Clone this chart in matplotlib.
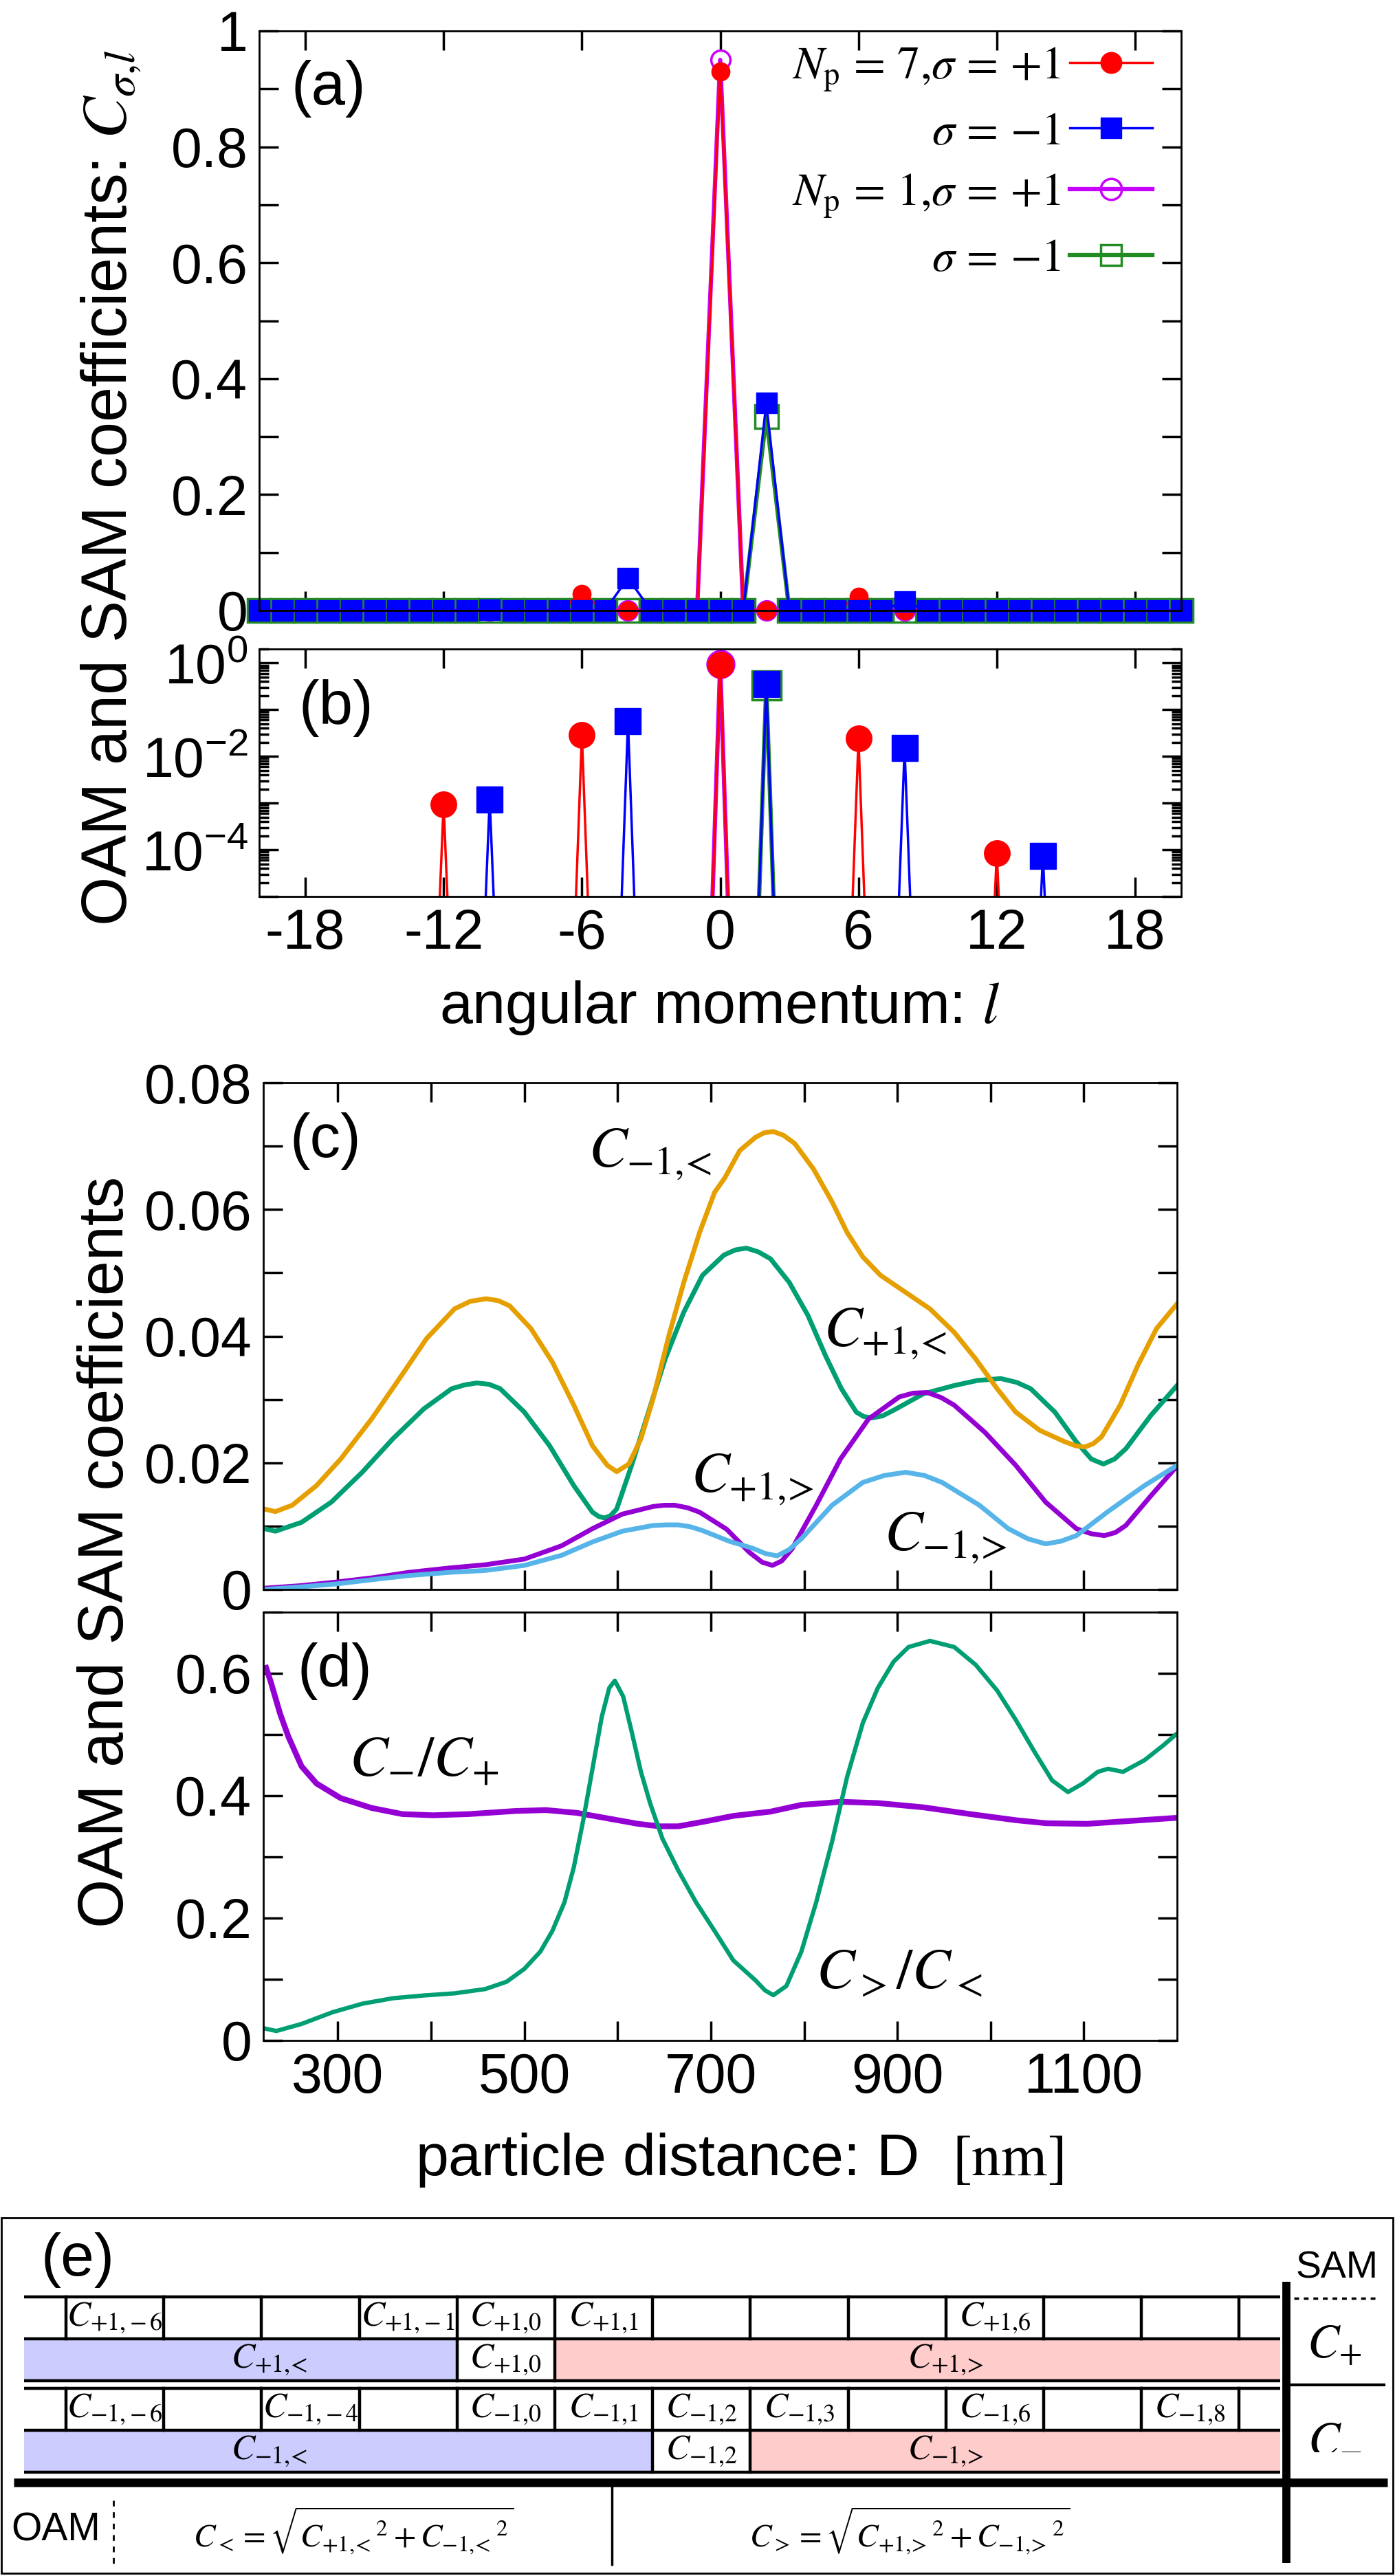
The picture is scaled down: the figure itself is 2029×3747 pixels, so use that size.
import numpy as np
import matplotlib
matplotlib.use('Agg')
import matplotlib.pyplot as plt
from matplotlib.lines import Line2D
from matplotlib.patches import Rectangle
from matplotlib.ticker import FixedLocator, FixedFormatter, LogLocator, NullFormatter

plt.rcParams['font.family'] = ['Liberation Sans', 'DejaVu Sans']
plt.rcParams['mathtext.fontset'] = 'stix'
plt.rcParams['axes.unicode_minus'] = False

W, H = 2029, 3747
DPI = 100

# ---------------- (a), (b): OAM spectrum C_{sigma,l} (only non-zero values listed)
l_vals = np.arange(-20, 21)
np7_plus_l = [-12, -6, 0, 6, 12]
np7_plus_c = [9.5e-4, 0.029, 0.93, 0.024, 8.5e-5]
np7_minus_l = [-10, -4, 2, 8, 14]
np7_minus_c = [1.2e-3, 0.056, 0.358, 0.015, 7.5e-5]
np1_plus_l = [0]
np1_plus_c = [0.95]
np1_minus_l = [2]
np1_minus_c = [0.335]
log_floor = 1e-15   # zeros drawn at this level in the log panel

# ---------------- (c): coefficients vs particle distance D [nm]
cm1_lt_D = [221, 233, 251, 277, 303, 336, 366, 395, 425, 442, 459, 472, 484, 507, 530, 553, 573,
            589, 599, 612, 625, 638, 655, 671, 688, 704, 715, 731, 748, 757, 767, 778, 790, 810,
            830, 846, 863, 882, 909, 935, 961, 984, 1007, 1027, 1053, 1080, 1091, 1101, 1110,
            1119, 1139, 1158, 1178, 1200]
cm1_lt = [0.0127, 0.0123, 0.0133, 0.0164, 0.0206, 0.0269, 0.0333, 0.0396, 0.0443, 0.0455, 0.0459,
          0.0456, 0.0448, 0.0412, 0.0359, 0.0291, 0.0227, 0.0196, 0.0186, 0.0198, 0.0238, 0.0301,
          0.0401, 0.0485, 0.0564, 0.0627, 0.0650, 0.0693, 0.0714, 0.0721, 0.0723, 0.0717, 0.0704,
          0.0664, 0.0612, 0.0564, 0.0525, 0.0496, 0.0469, 0.0443, 0.0406, 0.0364, 0.0317, 0.0280,
          0.0251, 0.0233, 0.0227, 0.0225, 0.0230, 0.0241, 0.0291, 0.0354, 0.0412, 0.0451]

cp1_lt_D = [221, 233, 261, 293, 326, 359, 392, 422, 436, 449, 462, 474, 500, 527, 553, 573, 580,
            586, 592, 599, 615, 632, 651, 671, 691, 714, 726, 738, 751, 764, 784, 804, 823, 840,
            856, 864, 873, 884, 896, 928, 961, 986, 1011, 1028, 1043, 1069, 1092, 1108, 1121, 1133,
            1145, 1172, 1200]
cp1_lt = [0.0096, 0.0092, 0.0106, 0.0138, 0.0185, 0.0238, 0.0285, 0.0317, 0.0323, 0.0326, 0.0324,
          0.0317, 0.0280, 0.0227, 0.0164, 0.0122, 0.0115, 0.0113, 0.0116, 0.0127, 0.0196, 0.0275,
          0.0364, 0.0438, 0.0496, 0.0528, 0.0536, 0.0539, 0.0533, 0.0522, 0.0485, 0.0433, 0.0369,
          0.0317, 0.0280, 0.0273, 0.0271, 0.0274, 0.0283, 0.0309, 0.0322, 0.0330, 0.0333, 0.0327,
          0.0317, 0.0280, 0.0233, 0.0206, 0.0198, 0.0206, 0.0222, 0.0275, 0.0322]

cp1_gt_D = [221, 260, 300, 340, 376, 420, 458, 500, 540, 573, 605, 638, 650, 661, 675, 688, 717,
            741, 755, 766, 776, 787, 813, 839, 869, 902, 917, 932, 947, 961, 994, 1027, 1059, 1092,
            1108, 1122, 1134, 1145, 1172, 1200]
cp1_gt = [0.0002, 0.0006, 0.0012, 0.0019, 0.0027, 0.0034, 0.0039, 0.0048, 0.0069, 0.0096, 0.0119,
          0.0131, 0.0133, 0.0133, 0.0129, 0.0122, 0.0095, 0.0059, 0.0043, 0.0038, 0.0045, 0.0064,
          0.0133, 0.0206, 0.0269, 0.0304, 0.0310, 0.0311, 0.0303, 0.0291, 0.0248, 0.0196, 0.0138,
          0.0096, 0.0088, 0.0085, 0.0090, 0.0101, 0.0148, 0.0195]

cm1_gt_D = [221, 260, 300, 340, 376, 420, 458, 500, 540, 573, 605, 638, 652, 665, 678, 691, 720,
            745, 758, 771, 784, 797, 830, 863, 886, 909, 929, 948, 988, 1019, 1040, 1059, 1075,
            1092, 1125, 1165, 1200]
cm1_gt = [0.0000, 0.0004, 0.0009, 0.0016, 0.0022, 0.0027, 0.0030, 0.0038, 0.0054, 0.0075, 0.0092,
          0.0101, 0.0102, 0.0102, 0.0099, 0.0093, 0.0076, 0.0065, 0.0057, 0.0053, 0.0063, 0.0080,
          0.0133, 0.0169, 0.0180, 0.0185, 0.0180, 0.0169, 0.0133, 0.0096, 0.0080, 0.0072, 0.0076,
          0.0085, 0.0122, 0.0164, 0.0196]

# ---------------- (d): ratios
sam_ratio_D = [223, 228, 238, 247, 261, 277, 303, 336, 369, 402, 441, 490, 523, 556, 589, 622, 645,
               665, 694, 724, 764, 797, 840, 879, 928, 978, 1027, 1060, 1103, 1142, 1201]
sam_ratio = [0.609, 0.586, 0.534, 0.496, 0.448, 0.420, 0.396, 0.380, 0.370, 0.368, 0.370, 0.375,
             0.3765, 0.372, 0.363, 0.354, 0.350, 0.350, 0.358, 0.367, 0.374, 0.385, 0.390, 0.388,
             0.381, 0.370, 0.360, 0.355, 0.354, 0.358, 0.364]

oam_ratio_D = [220, 234, 261, 294, 326, 359, 392, 425, 458, 481, 500, 517, 530, 543, 553, 563, 573,
               583, 591, 597, 606, 615, 625, 635, 648, 665, 684, 704, 724, 748, 758, 767, 781, 797,
               813, 830, 846, 863, 879, 896, 912, 935, 961, 984, 1007, 1027, 1047, 1066, 1083, 1099,
               1115, 1126, 1142, 1165, 1185, 1201]
oam_ratio = [0.020, 0.0155, 0.027, 0.046, 0.060, 0.069, 0.0735, 0.077, 0.084, 0.096, 0.117, 0.145,
             0.179, 0.226, 0.283, 0.359, 0.444, 0.529, 0.576, 0.588, 0.562, 0.505, 0.439, 0.387,
             0.330, 0.278, 0.226, 0.179, 0.131, 0.098, 0.082, 0.074, 0.089, 0.145, 0.226, 0.325,
             0.430, 0.519, 0.576, 0.619, 0.643, 0.653, 0.643, 0.614, 0.572, 0.524, 0.472, 0.425,
             0.406, 0.420, 0.439, 0.444, 0.439, 0.458, 0.482, 0.503]

# ---------------- (e): schematic table
plus_cells = [0, 3, 4, 5, 9]
plus_cell_sub = ['+1,-6', '+1,-1', '+1,0', '+1,1', '+1,6']
plus_mid_sub = '+1,0'
minus_cells = [0, 2, 4, 5, 6, 7, 9, 11]
minus_cell_sub = ['-1,-6', '-1,-4', '-1,0', '-1,1', '-1,2', '-1,3', '-1,6', '-1,8']
minus_mid_sub = '-1,2'
plus_split = 4     # the column kept apart between C_< and C_>
minus_split = 6

RED, BLUE, PURPLE, GREEN = '#FF0000', '#0000FF', '#C800FF', '#228B22'
ORANGE, TEAL, VIOLET, SKY = '#E69F00', '#009E73', '#9400D3', '#56B4E9'
LT_FILL, GT_FILL = '#CCCCFF', '#FFCCCC'

fig = plt.figure(figsize=(W / DPI, H / DPI), dpi=DPI)


def px_axes(x0, y0, x1, y1):
    return fig.add_axes([x0 / W, 1 - y1 / H, (x1 - x0) / W, (y1 - y0) / H])


def fig_text(x, y, s, **kw):
    return fig.text(x / W, 1 - y / H, s, **kw)


def sub(s):
    # braces keep mathtext from spacing the comma; pull '<' / '>' in tight
    s = s.replace(',', '{,}')
    return s.replace('<', r'\!{<}').replace('>', r'\!{>}')


def style_axes(ax, minor_len=20):
    ax.tick_params(which='both', direction='in', top=True, right=True, width=2.5,
                   labelsize=58, pad=12)
    ax.tick_params(which='major', length=20)
    ax.tick_params(which='minor', length=minor_len)
    for sp in ax.spines.values():
        sp.set_linewidth(2)


# table layer first (drawn underneath everything)
ax_e = fig.add_axes([0, 0, 1, 1])
ax_e.set_xlim(0, W)
ax_e.set_ylim(H, 0)
ax_e.axis('off')


def full_spectrum(ls, cs):
    c = np.zeros(l_vals.size)
    c[np.searchsorted(l_vals, ls)] = cs
    return c


spectra = {
    'np7p': full_spectrum(np7_plus_l, np7_plus_c),
    'np7m': full_spectrum(np7_minus_l, np7_minus_c),
    'np1p': full_spectrum(np1_plus_l, np1_plus_c),
    'np1m': full_spectrum(np1_minus_l, np1_minus_c),
}
styles = {
    'np7p': dict(color=RED, lw=2.5, marker='o', mfc=RED, mec=RED),
    'np7m': dict(color=BLUE, lw=2.5, marker='s', mfc=BLUE, mec=BLUE),
    'np1p': dict(color=PURPLE, lw=4.5, marker='o', mfc='none', mec=PURPLE, mew=2.5),
    'np1m': dict(color=GREEN, lw=4.5, marker='s', mfc='none', mec=GREEN, mew=2.5),
}
sizes_a = {'np7p': 19, 'np7m': 22, 'np1p': 20, 'np1m': 24}
sizes_b = {'np7p': 27, 'np7m': 28, 'np1p': 28, 'np1m': 30}
draw_order = ['np1m', 'np1p', 'np7p', 'np7m']
legend_order = ['np7p', 'np7m', 'np1p', 'np1m']
legend_labels = [r'$N_\mathrm{p}\,=\,7{,}\sigma\,=\,{+1}$', r'$\sigma\,=\,{-1}$',
                 r'$N_\mathrm{p}\,=\,1{,}\sigma\,=\,{+1}$', r'$\sigma\,=\,{-1}$']

# ---- (a)
ax_a = px_axes(377, 45, 1718, 888)
for k in draw_order:
    ax_a.plot(l_vals, spectra[k], ms=sizes_a[k], clip_on=False, **styles[k])
ax_a.set_xlim(-20, 20)
ax_a.set_ylim(0, 1)
ax_a.set_xticks(range(-18, 19, 6))
ax_a.tick_params(labelbottom=False)
ax_a.yaxis.set_major_locator(FixedLocator([0, 0.2, 0.4, 0.6, 0.8, 1.0]))
ax_a.yaxis.set_major_formatter(FixedFormatter(['0', '0.2', '0.4', '0.6', '0.8', '1']))
ax_a.yaxis.set_minor_locator(FixedLocator([0.1, 0.3, 0.5, 0.7, 0.9]))
style_axes(ax_a)
ax_a.spines['bottom'].set_zorder(5)
handles = [Line2D([], [], ms=22, **styles[k]) for k in legend_order]
ax_a.legend(handles, legend_labels, loc='upper right', bbox_to_anchor=(0.969, 0.975),
            frameon=False, markerfirst=False, fontsize=48, handlelength=1.8,
            handletextpad=0.2, labelspacing=0.4, borderpad=0, borderaxespad=0)
ax_a.text(0.035, 0.90, '(a)', transform=ax_a.transAxes, fontsize=64, va='center', ha='left')

# ---- (b)
ax_b = px_axes(377, 944, 1718, 1304)
for k in draw_order:
    vals = np.where(spectra[k] > 0, spectra[k], log_floor)
    ax_b.plot(l_vals, vals, ms=sizes_b[k], **styles[k])
ax_b.set_yscale('log')
ax_b.set_xlim(-20, 20)
ax_b.set_ylim(1e-5, 2)
ax_b.set_xticks(range(-18, 19, 6))
ax_b.yaxis.set_major_locator(FixedLocator([1e-5, 1e-4, 1e-3, 1e-2, 1e-1, 1]))
ax_b.yaxis.set_major_formatter(FixedFormatter(['', r'$\mathregular{10^{-4}}$', '',
                                               r'$\mathregular{10^{-2}}$', '',
                                               r'$\mathregular{10^{0}}$']))
ax_b.yaxis.set_minor_locator(LogLocator(base=10, subs=np.arange(2, 10), numticks=20))
ax_b.yaxis.set_minor_formatter(NullFormatter())
style_axes(ax_b, minor_len=10)
ax_b.text(0.043, 0.76, '(b)', transform=ax_b.transAxes, fontsize=64, va='center', ha='left')

fig_text(1047, 1466, r'angular momentum: $l$', fontsize=62, ha='center', va='center')
fig_text(162, 710, r'OAM and SAM coefficients: $C_{\sigma{,}l}$', fontsize=66,
         rotation=90, ha='center', va='center')

# ---- (c)
D_ticks = list(range(300, 1101, 100))
D_labels = ['300', '', '500', '', '700', '', '900', '', '1100']

ax_c = px_axes(383, 1575, 1712, 2312)
ax_c.plot(cp1_lt_D, cp1_lt, color=TEAL, lw=5)
ax_c.plot(cm1_lt_D, cm1_lt, color=ORANGE, lw=5)
ax_c.plot(cp1_gt_D, cp1_gt, color=VIOLET, lw=5)
ax_c.plot(cm1_gt_D, cm1_gt, color=SKY, lw=5)
ax_c.set_xlim(220, 1200)
ax_c.set_ylim(0, 0.08)
ax_c.set_xticks(D_ticks)
ax_c.tick_params(labelbottom=False)
ax_c.yaxis.set_major_locator(FixedLocator(np.arange(0, 0.081, 0.01)))
ax_c.yaxis.set_major_formatter(FixedFormatter(['0', '', '0.02', '', '0.04', '', '0.06', '', '0.08']))
style_axes(ax_c)
ax_c.text(0.029, 0.884, '(c)', transform=ax_c.transAxes, fontsize=64, va='center', ha='left')
lab_kw = dict(fontsize=60, ha='center', va='center')
ax_c.text(635, 0.0687, '$C_{%s}$' % sub('-1,<'), **lab_kw)
ax_c.text(887, 0.0404, '$C_{%s}$' % sub('+1,<'), **lab_kw)
ax_c.text(745, 0.0173, '$C_{%s}$' % sub('+1,>'), **lab_kw)
ax_c.text(952, 0.0081, '$C_{%s}$' % sub('-1,>'), **lab_kw)

# ---- (d)
ax_d = px_axes(383, 2345, 1712, 2968)
ax_d.plot(sam_ratio_D, sam_ratio, color=VIOLET, lw=6)
ax_d.plot(oam_ratio_D, oam_ratio, color=TEAL, lw=4.5)
ax_d.set_xlim(220, 1200)
ax_d.set_ylim(0, 0.7)
ax_d.set_xticks(D_ticks)
ax_d.set_xticklabels(D_labels)
ax_d.yaxis.set_major_locator(FixedLocator(np.arange(0, 0.71, 0.1)))
ax_d.yaxis.set_major_formatter(FixedFormatter(['0', '', '0.2', '', '0.4', '', '0.6', '']))
style_axes(ax_d)
ax_d.text(0.037, 0.862, '(d)', transform=ax_d.transAxes, fontsize=64, va='center', ha='left')
ax_d.text(392, 0.457, r'$C_{-}/C_{+}$', **lab_kw)
ax_d.text(902, 0.109, r'$C_{>}/C_{<}$', **lab_kw)

fig_text(1075, 3142, r'particle distance: D  $\mathrm{[nm]}$', fontsize=62,
         ha='center', va='center')
fig_text(155, 2257, 'OAM and SAM coefficients', fontsize=66, rotation=90,
         ha='center', va='center')

# ---- (e) table, drawn in figure pixels
tab_x0, tab_x1 = 35, 1862
col_x0, col_w, n_col = 96, 142.2, 12
lw_t = 3.2
fs_cell = 37


def col_x(k):
    return col_x0 + k * col_w


def table_block(top, mid, bot, cells, subs, mid_sub, split, sign):
    ax_e.add_patch(Rectangle((tab_x0, mid), col_x(split) - tab_x0, bot - mid,
                             fc=LT_FILL, ec='none'))
    ax_e.add_patch(Rectangle((col_x(split + 1), mid), tab_x1 - col_x(split + 1), bot - mid,
                             fc=GT_FILL, ec='none'))
    for y in (top, mid, bot):
        ax_e.plot([tab_x0, tab_x1], [y, y], color='k', lw=lw_t, solid_capstyle='butt')
    for k in range(n_col + 1):
        ax_e.plot([col_x(k)] * 2, [top, mid], color='k', lw=lw_t)
    for k in (split, split + 1):
        ax_e.plot([col_x(k)] * 2, [mid, bot], color='k', lw=lw_t)
    for k, s in zip(cells, subs):
        ax_e.text(col_x(k) + col_w / 2, (top + mid) / 2, '$C_{%s}$' % sub(s),
                  fontsize=fs_cell, ha='center', va='center')
    yc = (mid + bot) / 2
    ax_e.text(392, yc, '$C_{%s}$' % sub(sign + '1,<'), fontsize=fs_cell, ha='center', va='center')
    ax_e.text(col_x(split) + col_w / 2, yc, '$C_{%s}$' % sub(mid_sub),
              fontsize=fs_cell, ha='center', va='center')
    ax_e.text(1376, yc, '$C_{%s}$' % sub(sign + '1,>'), fontsize=fs_cell, ha='center', va='center')


table_block(3341, 3402, 3463, plus_cells, plus_cell_sub, plus_mid_sub, plus_split, '+')
table_block(3474, 3535, 3596, minus_cells, minus_cell_sub, minus_mid_sub, minus_split, '-')

ax_e.add_patch(Rectangle((2, 3226), 2024, 517, fc='none', ec='k', lw=2))
ax_e.plot([20, 2018], [3611, 3611], color='k', lw=9, solid_capstyle='butt')
ax_e.plot([1871, 1871], [3319, 3728], color='k', lw=8.5, solid_capstyle='butt')
ax_e.plot([1882, 2004], [3343, 3343], color='k', lw=2.5, ls=(0, (2, 2)))
ax_e.plot([1876, 2013], [3469, 3469], color='k', lw=3)
ax_e.plot([165, 165], [3637, 3730], color='k', lw=2, ls=(0, (3, 3)))
ax_e.plot([890, 890], [3617, 3730], color='k', lw=2.5)
ax_e.text(113, 3287, '(e)', fontsize=63, ha='center', va='center')
ax_e.text(1945, 3299, 'SAM', fontsize=40, ha='center', va='center')
ax_e.text(1941, 3412, r'$C_{+}$', fontsize=50, ha='center', va='center')
ax_e.text(1941, 3545, r'$C_{-}$', fontsize=50, ha='center', va='center')
ax_e.text(81, 3680, 'OAM', fontsize=41, ha='center', va='center')
ax_e.text(514, 3681, r'$C_{<}=\sqrt{{C_{%s}}^{2}+{C_{%s}}^{2}}$' % (sub('+1,<'), sub('-1,<')),
          fontsize=34, ha='center', va='center')
ax_e.text(1323, 3681, r'$C_{>}=\sqrt{{C_{%s}}^{2}+{C_{%s}}^{2}}$' % (sub('+1,>'), sub('-1,>')),
          fontsize=34, ha='center', va='center')

fig.savefig('out.png', dpi=DPI)
